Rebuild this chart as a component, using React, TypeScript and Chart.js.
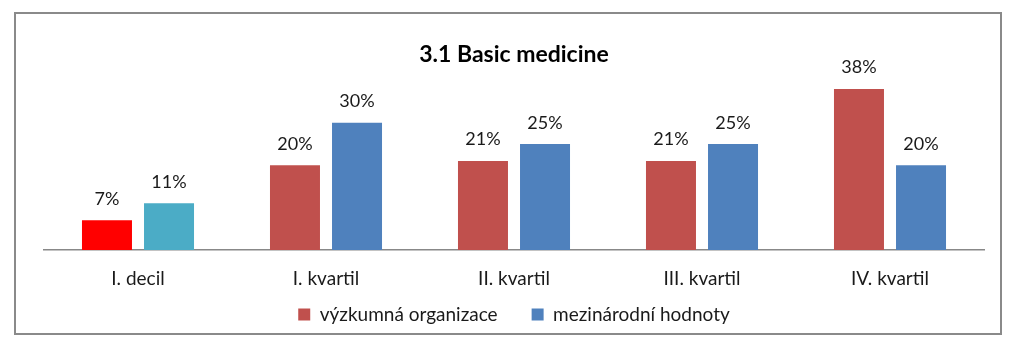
import React, { useEffect, useRef } from 'react';
import { Chart, registerables } from 'chart.js';

Chart.register(...registerables);

const titleText = '3.1 Basic medicine';
const categories = ['I. decil', 'I. kvartil', 'II. kvartil', 'III. kvartil', 'IV. kvartil'];
const seriesNames = ['výzkumná organizace', 'mezinárodní hodnoty'];
const orgValues = [7, 20, 21, 21, 38];
const intlValues = [11, 30, 25, 25, 20];

const ORG_COLOR = '#C0504D';
const INTL_COLOR = '#4F81BD';
const DECIL_ORG_COLOR = '#FF0000';
const DECIL_INTL_COLOR = '#4BACC6';
const SERIES_COLORS = [ORG_COLOR, INTL_COLOR];
const FONT = 'Lato';

const valueLabels = {
  id: 'valueLabels',
  afterDatasetsDraw(chart: any) {
    const ctx = chart.ctx;
    ctx.save();
    ctx.font = `18px ${FONT}`;
    ctx.fillStyle = '#1a1a1a';
    ctx.textAlign = 'center';
    ctx.textBaseline = 'alphabetic';
    chart.data.datasets.forEach((ds: any, i: number) => {
      const meta = chart.getDatasetMeta(i);
      meta.data.forEach((bar: any, j: number) => {
        ctx.fillText(`${ds.data[j]}%`, bar.x, bar.y - 15.5);
      });
    });
    ctx.restore();
  },
};

export default function App() {
  const ref = useRef<HTMLCanvasElement | null>(null);

  useEffect(() => {
    if (!ref.current) return;
    Chart.defaults.font.family = FONT;
    const defaultGen = Chart.defaults.plugins.legend.labels.generateLabels;
    const chart = new Chart(ref.current, {
      type: 'bar',
      data: {
        labels: categories,
        datasets: [
          {
            label: seriesNames[0],
            data: orgValues,
            backgroundColor: (c: any) => (c.dataIndex === 0 ? DECIL_ORG_COLOR : ORG_COLOR),
            borderWidth: 0,
            categoryPercentage: 0.66,
            barPercentage: 0.806,
          },
          {
            label: seriesNames[1],
            data: intlValues,
            backgroundColor: (c: any) => (c.dataIndex === 0 ? DECIL_INTL_COLOR : INTL_COLOR),
            borderWidth: 0,
            categoryPercentage: 0.66,
            barPercentage: 0.806,
          },
        ],
      },
      options: {
        responsive: false,
        animation: false,
        layout: { padding: { top: 0, bottom: 24, left: 44, right: 40 } },
        plugins: {
          title: {
            display: true,
            text: titleText,
            color: '#000',
            font: { family: FONT, size: 23, weight: 'bold' },
            padding: { top: 41.1, bottom: 11.7 },
          },
          legend: {
            position: 'bottom',
            labels: {
              boxWidth: 12,
              boxHeight: 12,
              padding: 34,
              color: '#1a1a1a',
              font: { family: FONT, size: 19 },
              generateLabels: (ch: any) =>
                defaultGen(ch).map((item: any, i: number) => ({
                  ...item,
                  fillStyle: SERIES_COLORS[i],
                  strokeStyle: SERIES_COLORS[i],
                  lineWidth: 0,
                })),
            },
          },
          tooltip: { enabled: false },
        },
        scales: {
          x: {
            grid: { display: false, drawTicks: false },
            border: { display: true, color: '#888888', width: 1.5 },
            ticks: { color: '#1a1a1a', font: { family: FONT, size: 19 }, padding: 17.5 },
            afterFit: (scale: any) => {
              scale.height = 21;
              scale._computeLabelArea = () => undefined;
            },
          },
          y: {
            display: false,
            min: 0,
            max: 40,
          },
        },
      },
      plugins: [valueLabels],
    } as any);
    return () => chart.destroy();
  }, []);

  return (
    <div style={{ position: 'absolute', left: 0, top: 0, width: 1024, height: 358, background: '#fff' }}>
      <div
        style={{
          position: 'absolute',
          left: 14,
          top: 12,
          width: 988,
          height: 323,
          border: '2px solid #8a8a8a',
          boxSizing: 'border-box',
        }}
      />
      <canvas ref={ref} width={1024} height={358} style={{ position: 'absolute', left: 0, top: 0 }} />
    </div>
  );
}
